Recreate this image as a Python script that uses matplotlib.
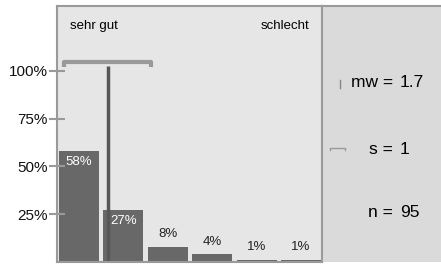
import numpy as np
import matplotlib.pyplot as plt

plt.rcParams['font.family'] = ['Liberation Sans', 'DejaVu Sans']

# Daten
kategorien = [1, 2, 3, 4, 5, 6]
anteile = [58, 27, 8, 4, 1, 1]
labels = ["58%", "27%", "8%", "4%", "1%", "1%"]
yticks = [25, 50, 75, 100]
ytick_labels = ["25%", "50%", "75%", "100%"]
mw_text = "1.7"
s_text = "1"
n_text = "95"

# Mittelwert / Streuung aus den Anteilen
k = np.array(kategorien, dtype=float)
p = np.array(anteile, dtype=float)
mw = (k * p).sum() / p.sum()
s = np.sqrt(((k - mw) ** 2 * p).sum() / p.sum())

fig = plt.figure(figsize=(4.41, 2.64), dpi=100)

# rechtes Statistik-Feld
ax2 = fig.add_axes([0.730, 0.008, 0.270, 0.969])
ax2.set_facecolor("#dadada")
ax2.set_xlim(0, 1)
ax2.set_ylim(0, 1)
ax2.set_xticks([])
ax2.set_yticks([])
for sp in ax2.spines.values():
    sp.set_visible(False)
ax2.spines['top'].set_visible(True)
ax2.spines['top'].set_color("#9a9a9a")
ax2.spines['top'].set_linewidth(1.5)

ax = fig.add_axes([0.129, 0.008, 0.601, 0.969])
ax.set_facecolor("#e6e6e6")
x = np.arange(len(kategorien))
ax.bar(x, anteile, width=0.9, color="#686868")
ax.set_xlim(-0.495, 5.47)
ax.set_ylim(0, 134)
ax.set_xticks([])
ax.set_yticks(yticks)
ax.set_yticklabels(ytick_labels, fontsize=11, color="#111111")
ax.tick_params(axis='y', direction='inout', length=11, width=1.5, color="#999999", pad=1)
for sp in ax.spines.values():
    sp.set_color("#9a9a9a")
    sp.set_linewidth(1.5)

for xi, v, lab in zip(x, anteile, labels):
    if v > 20:
        ax.text(xi, v - 2.5, lab, ha='center', va='top', fontsize=9.5, color="white")
    else:
        ax.text(xi, v + 3.5, lab, ha='center', va='bottom', fontsize=9.5, color="#222222")

# Mittelwert und Streuung
pos_mw = mw - 1
ax.vlines(pos_mw, 0, 102.5, color="#575757", linewidth=2.5)
ax.plot([pos_mw - s, pos_mw - s, pos_mw + s, pos_mw + s], [102, 104.5, 104.5, 102],
        color="#9a9a9a", linewidth=3, solid_capstyle='butt')

ax.text(-0.2, 123.6, "sehr gut", ha='left', va='center', fontsize=9.5)
ax.text(5.18, 123.6, "schlecht", ha='right', va='center', fontsize=9.5)

# Legende rechts
ax2.plot([0.155, 0.155], [0.68, 0.71], color="#888888", linewidth=1)
ax2.plot([0.07, 0.07, 0.19, 0.19], [0.438, 0.446, 0.446, 0.438], color="#999999", linewidth=1)
for yy, lab, val in [(0.70, "mw =", mw_text), (0.44, "s =", s_text), (0.195, "n =", n_text)]:
    ax2.text(0.595, yy, lab, ha='right', va='center', fontsize=12.5)
    ax2.text(0.655, yy, val, ha='left', va='center', fontsize=12.5)

fig.savefig("out.png", dpi=100)
